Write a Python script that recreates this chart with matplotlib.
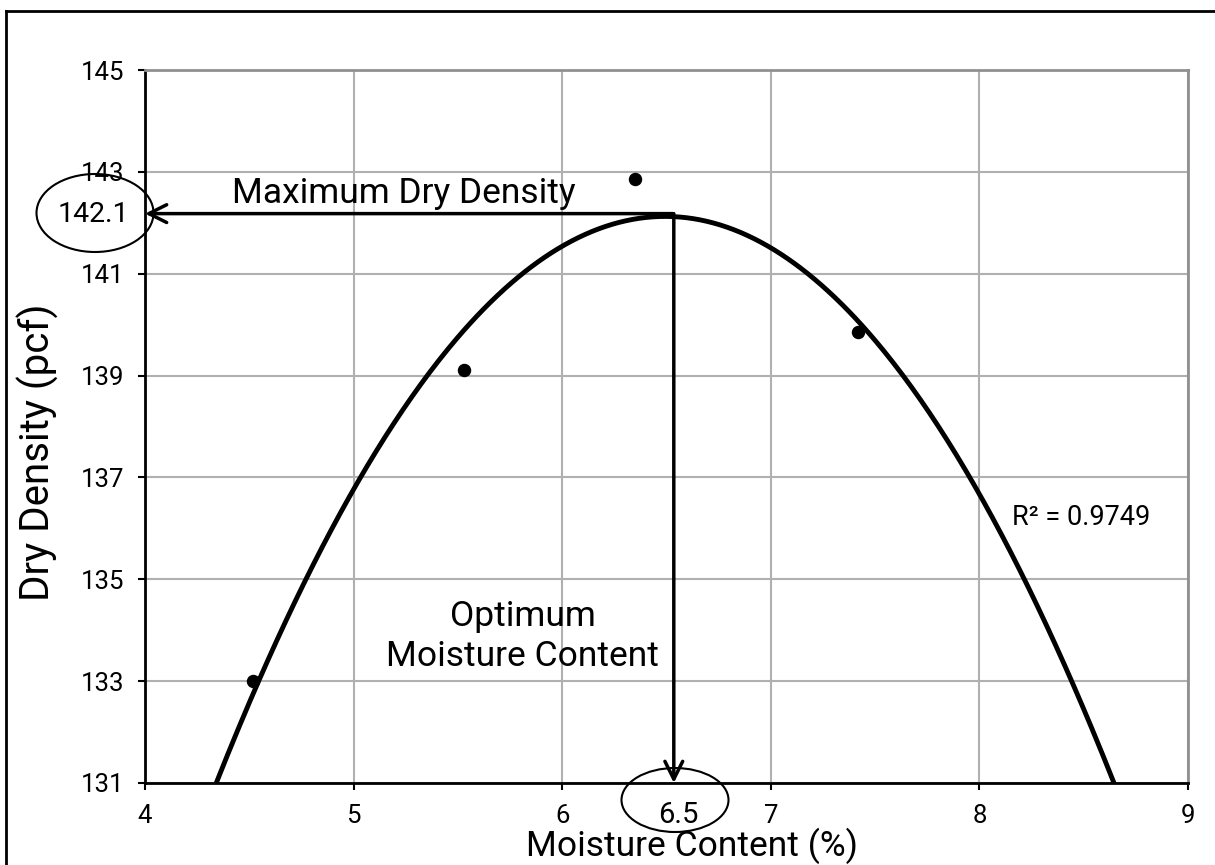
import numpy as np
import matplotlib
matplotlib.use("Agg")
import matplotlib.pyplot as plt
from matplotlib.patches import Ellipse
from matplotlib.lines import Line2D

# Data
moisture = [4.52, 5.53, 6.35, 7.42]
density = [133.0, 139.1, 142.85, 139.85]
x_ticks = [4, 5, 6, 7, 8, 9]
y_ticks = [131, 133, 135, 137, 139, 141, 143, 145]
r2_label = "R² = 0.9749"
max_dry_density = 142.1
optimum_moisture = 6.5

plt.rcParams['font.family'] = ['Roboto', 'DejaVu Sans']

fig = plt.figure(figsize=(12.15, 8.65), dpi=100)
ax = fig.add_axes([145/1215, 1-783/865, (1188-145)/1215, (783-70)/865])

ax.set_xlim(4, 9)
ax.set_ylim(131, 145)
ax.set_xticks(x_ticks)
ax.set_yticks(y_ticks)
ax.tick_params(axis='both', direction='out', length=5, width=1.5, labelsize=18.5, colors='black', pad=10)
ax.grid(True, color='#b0b0b0', lw=1.5)
ax.set_axisbelow(True)
for s in ['top', 'right']:
    ax.spines[s].set_color('#909090')
    ax.spines[s].set_linewidth(2)
for s in ['left', 'bottom']:
    ax.spines[s].set_color('black')
    ax.spines[s].set_linewidth(2)

# Trendline (2nd order polynomial fit)
coef = np.polyfit(moisture, density, 2)
roots = np.sort(np.roots(np.array(coef) - np.array([0, 0, 131])).real)
xs = np.linspace(roots[0], roots[1], 400)
ax.plot(xs, np.polyval(coef, xs), color='black', lw=3.5, zorder=3, clip_on=False,
        solid_capstyle='butt')

ax.scatter(moisture, density, s=75, color='black', zorder=4)

# Arrows
ax.annotate('', xy=(4.0, max_dry_density + 0.08), xytext=(optimum_moisture + 0.03, max_dry_density + 0.08),
            arrowprops=dict(arrowstyle='->', lw=2.5, color='black', mutation_scale=32,
                            shrinkA=0, shrinkB=0), zorder=5, annotation_clip=False)
ax.annotate('', xy=(optimum_moisture + 0.035, 131.0), xytext=(optimum_moisture + 0.035, max_dry_density + 0.08),
            arrowprops=dict(arrowstyle='->', lw=2.5, color='black', mutation_scale=32,
                            shrinkA=0, shrinkB=0), zorder=5, annotation_clip=False)

# Texts
ax.text(5.24, 142.58, 'Maximum Dry Density', fontsize=25.5, ha='center', va='center')
ax.text(5.81, 134.26, 'Optimum', fontsize=25.5, ha='center', va='center')
ax.text(5.81, 133.48, 'Moisture Content', fontsize=25.5, ha='center', va='center')
ax.text(8.49, 136.22, r2_label, fontsize=19.5, ha='center', va='center')

# Labels
fig.text(38/1215, 1-452/865, 'Dry Density (pcf)', rotation=90, fontsize=29, ha='center', va='center')
fig.text(692/1215, 1-846/865, 'Moisture Content (%)', fontsize=25.5, ha='center', va='center')

# Circled values
fig.text(93/1215, 1-215/865, f'{max_dry_density}', fontsize=20.5, ha='center', va='center')
fig.patches.append(Ellipse((95/1215, 1-213/865), 117/1215, 78/865, transform=fig.transFigure,
                           fill=False, ec='black', lw=1.5))
fig.text(678/1215, 1-815/865, f'{optimum_moisture}', fontsize=21, ha='center', va='center')
fig.patches.append(Ellipse((675/1215, 1-800/865), 107/1215, 64/865, transform=fig.transFigure,
                           fill=False, ec='black', lw=1.5, zorder=5))

# Figure border (partial)
fig.add_artist(Line2D([6/1215, 1.0], [1-11/865, 1-11/865], color='black', lw=2, transform=fig.transFigure))
fig.add_artist(Line2D([6/1215, 6/1215], [1-11/865, 0.0], color='black', lw=2, transform=fig.transFigure))

fig.savefig('out.png', dpi=100)
